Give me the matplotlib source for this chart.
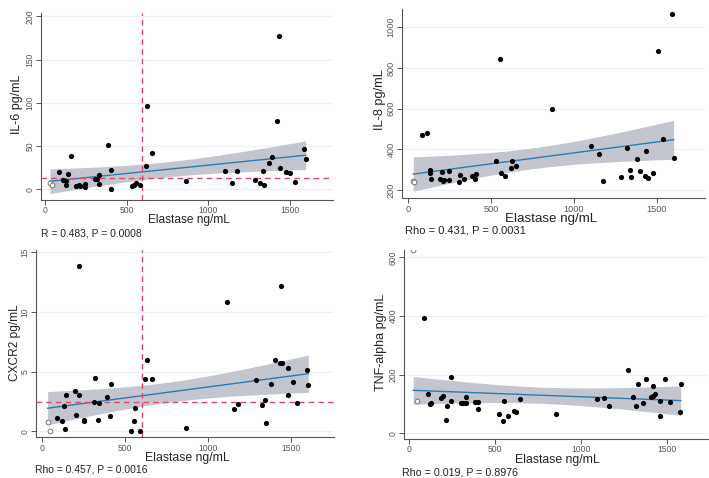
import numpy as np
import matplotlib
matplotlib.use("Agg")
import matplotlib.pyplot as plt

plt.rcParams["font.family"] = ["Liberation Sans", "DejaVu Sans"]

# ---- data ----
# IL-6
il6_x = [88, 112, 131, 131, 141, 161, 190, 206, 214, 247, 247, 306, 316, 333, 330,
         384, 406, 404, 531, 545, 557, 582, 616, 623, 653, 861, 1102, 1147, 1174,
         1284, 1316, 1333, 1343, 1374, 1392, 1421, 1431, 1439, 1474, 1502, 1531,
         1588, 1596]
il6_y = [19.7, 10.8, 9.7, 4.6, 17.4, 38.6, 4, 4.5, 4, 6, 2.7, 12, 12, 16, 6.6,
         51.7, 22.4, 0, 3.5, 5.4, 7.3, 4.6, 26.6, 96.5, 41.7, 9.3, 21.6, 7, 21.2,
         10.8, 7, 20.8, 5, 30.5, 37.8, 79.2, 177.6, 25.1, 20.1, 18.9, 8.5, 46.7, 35.5]
il6_open_x = [30, 40]
il6_open_y = [7, 5]

# IL-8
il8_x = [87, 113, 131, 131, 141, 191, 203, 213, 217, 248, 248, 308, 314, 336, 385,
         403, 407, 530, 552, 560, 584, 620, 626, 654, 866, 1106, 1150, 1176, 1285,
         1321, 1337, 1345, 1378, 1396, 1426, 1436, 1444, 1478, 1506, 1537, 1593, 1601]
il8_y = [469, 479, 297, 282, 256, 254, 289, 244, 251, 295, 248, 241, 275, 252, 269,
         256, 279, 341, 842, 282, 267, 308, 343, 320, 600, 418, 375, 244, 264,
         408, 298, 264, 352, 292, 270, 393, 261, 282, 882, 451, 1064, 359]
il8_open_x = [32, 36]
il8_open_y = [245, 238]

# CXCR2
cx_x = [90, 117, 133, 135, 145, 195, 205, 219, 223, 251, 253, 316, 314, 340, 338,
        388, 412, 408, 535, 555, 561, 587, 621, 629, 659, 868, 1110, 1152, 1178,
        1288, 1323, 1339, 1349, 1379, 1399, 1429, 1445, 1437, 1479, 1479, 1508,
        1536, 1596, 1602]
cx_y = [1.09, 0.89, 2.15, 0.22, 3.04, 3.38, 1.40, 3.02, 13.9, 0.98, 0.89, 4.44,
        2.43, 2.40, 0.95, 2.85, 3.97, 1.31, 0.0, 0.84, 1.98, 0.03, 4.36, 5.98,
        4.36, 0.28, 10.84, 1.87, 2.26, 4.30, 2.18, 2.63, 0.7, 3.97, 5.95, 5.73,
        5.73, 12.18, 5.34, 3.02, 4.13, 2.37, 5.14, 3.91]
cx_open_x = [32, 48]
cx_open_y = [0.78, 0.06]

# TNF-alpha
tnf_x = [85, 113, 124, 131, 186, 200, 213, 219, 246, 246, 305, 314, 332, 332, 382,
         403, 402, 524, 545, 555, 578, 613, 621, 648, 854, 1094, 1137, 1164, 1273,
         1306, 1323, 1333, 1362, 1380, 1418, 1410, 1420, 1430, 1463, 1463, 1490,
         1517, 1581, 1576]
tnf_y = [395, 136, 99, 102, 120, 127, 45, 95, 192, 111, 104, 104, 124, 103, 106,
         106, 82, 66, 44, 111, 61, 77, 73, 119, 66, 116, 120, 95, 216, 124, 95,
         169, 103, 187, 161, 124, 128, 133, 112, 61, 187, 108, 170, 74]
tnf_open_x = [25, 45]
tnf_open_y = [624, 111]

W, H = 709, 478
RED = "#e0456a"
BLUE = "#2e7bb0"
BAND = "#c4c6cf"


def make_axes(fig, l, t, r, b):
    return fig.add_axes([l / W, 1 - b / H, (r - l) / W, (b - t) / H])


def panel(fig, box, x, y, ox, oy, xlim, ylim, yticks, ylab, stat, xl_pos, yl_pos,
          st_pos, lab_fs, st_fs, tick_fs, cut=None):
    ax = make_axes(fig, *box)
    ax.set_xlim(*xlim)
    ax.set_ylim(*ylim)
    for yt in yticks:
        ax.axhline(yt, color="#eef1f4", lw=0.9, zorder=0)

    # linear fit with 95% CI of the mean, over all points
    allx = np.array(list(ox) + list(x), float)
    ally = np.array(list(oy) + list(y), float)
    n = len(allx)
    b1, b0 = np.polyfit(allx, ally, 1)
    resid = ally - (b0 + b1 * allx)
    s = np.sqrt(np.sum(resid ** 2) / (n - 2))
    xg = np.linspace(allx.min(), allx.max(), 100)
    sxx = np.sum((allx - allx.mean()) ** 2)
    se = s * np.sqrt(1 / n + (xg - allx.mean()) ** 2 / sxx)
    yg = b0 + b1 * xg
    ax.fill_between(xg, yg - 2.01 * se, yg + 2.01 * se, color=BAND, lw=0, zorder=1)
    ax.plot(xg, yg, color=BLUE, lw=1.0, zorder=2)

    if cut is not None:
        ax.axvline(cut[0], color=RED, lw=1.0, ls=(0, (4, 3)), zorder=3)
        ax.axhline(cut[1], color=RED, lw=1.0, ls=(0, (4, 3)), zorder=3)

    ax.scatter(x, y, s=14, color="black", lw=0, zorder=4)
    ax.scatter(ox, oy, s=12, facecolor="white", edgecolor="#666666", lw=0.6, zorder=4)

    for sp in ["top", "right"]:
        ax.spines[sp].set_visible(False)
    for sp in ["left", "bottom"]:
        ax.spines[sp].set_color("#555555")
        ax.spines[sp].set_linewidth(0.8)
    ax.set_xticks([0, 500, 1000, 1500])
    ax.set_yticks(yticks)
    ax.tick_params(colors="#555555", labelsize=tick_fs, length=3.5, width=0.7, pad=1)
    ax.tick_params(axis="y", labelrotation=90)
    for lb in ax.get_yticklabels():
        lb.set_va("center")

    fig.text(xl_pos[0] / W, 1 - xl_pos[1] / H, "Elastase ng/mL", ha="center",
             va="center", fontsize=lab_fs[0], color="#222222")
    fig.text(yl_pos[0] / W, 1 - yl_pos[1] / H, ylab, ha="center", va="center",
             rotation=90, fontsize=lab_fs[1], color="#222222")
    fig.text(st_pos[0] / W, 1 - st_pos[1] / H, stat, ha="left", va="center",
             fontsize=st_fs, color="#222222")
    return ax


fig = plt.figure(figsize=(7.09, 4.78), dpi=100)

panel(fig, (41, 13, 333, 200), il6_x, il6_y, il6_open_x, il6_open_y,
      (-24.5, 1763), (-12.4, 204), [0, 50, 100, 150, 200], "IL-6 pg/mL",
      "R = 0.483, P = 0.0008", (188.7, 219.8), (17, 104), (40.7, 233.3),
      (8.6, 9), 7.4, 6.2, cut=(594, 12.5))

panel(fig, (402, 9.3, 705, 198.3), il8_x, il8_y, il8_open_x, il8_open_y,
      (-36, 1790), (159, 1088), [200, 400, 600, 800, 1000], "IL-8 pg/mL",
      "Rho = 0.431, P = 0.0031", (551.5, 219), (380, 100), (404.7, 231),
      (9.6, 9.2), 8.0, 6.6)

panel(fig, (36, 250, 334, 437.3), cx_x, cx_y, cx_open_x, cx_open_y,
      (-38, 1757), (-0.5, 15.2), [0, 5, 10, 15], "CXCR2 pg/mL",
      "Rho = 0.457, P = 0.0016", (187.5, 457.8), (15.5, 343), (35, 470),
      (8.8, 8.6), 7.5, 6.2, cut=(599, 2.46))

panel(fig, (404, 250, 708, 439), tnf_x, tnf_y, tnf_open_x, tnf_open_y,
      (-29, 1740), (-19, 625), [0, 200, 400, 600], "TNF-alpha pg/mL",
      "Rho = 0.019, P = 0.8976", (557, 460.5), (381, 342), (401.7, 472.5),
      (8.8, 9.0), 7.7, 6.2)

fig.savefig("out.png", dpi=100)
